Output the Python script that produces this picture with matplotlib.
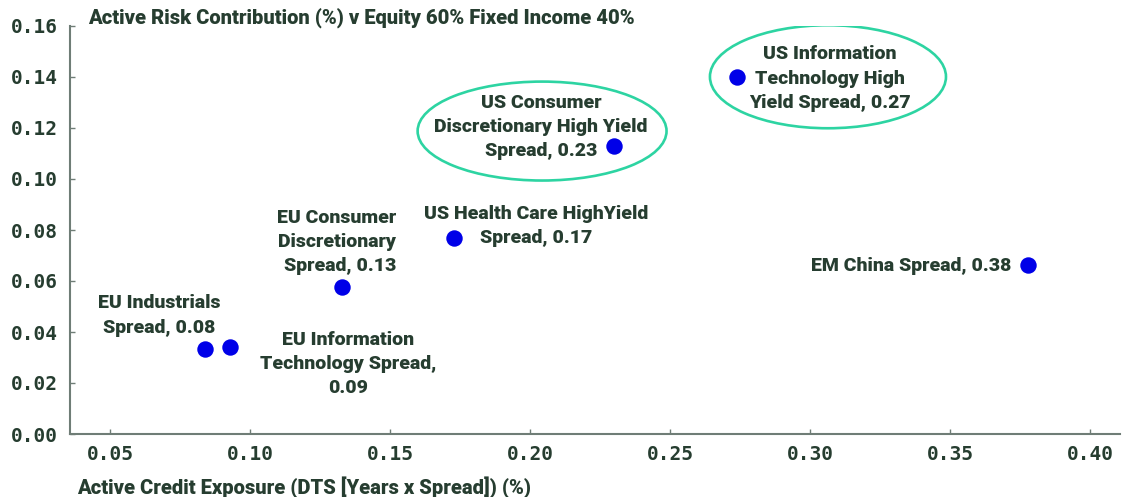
import matplotlib
matplotlib.use("Agg")
import matplotlib.pyplot as plt
from matplotlib.patches import Ellipse

# Data
names = [
    "EU Industrials\nSpread, 0.08",
    "EU Information\nTechnology Spread,\n0.09",
    "EU Consumer\nDiscretionary\nSpread, 0.13",
    "US Health Care HighYield\nSpread, 0.17",
    "US Consumer\nDiscretionary High Yield\nSpread, 0.23",
    "US Information\nTechnology High\nYield Spread, 0.27",
    "EM China Spread, 0.38",
]
credit_exposure = [0.084, 0.093, 0.133, 0.173, 0.230, 0.274, 0.378]
risk_contribution = [0.0333, 0.0341, 0.0576, 0.0769, 0.1129, 0.1401, 0.0663]
highlighted = [False, False, False, False, True, True, False]

x_ticks = [0.05, 0.10, 0.15, 0.20, 0.25, 0.30, 0.35, 0.40]
y_ticks = [0.00, 0.02, 0.04, 0.06, 0.08, 0.10, 0.12, 0.14, 0.16]

# label placement (offsets in px -> points), alignment
px = 0.72
offsets = [(-46, 33.5), (118, -17), (54, 45), (82, 12), (-73, 19), (93, -2), (-17, -1)]
haligns = ["center", "center", "right", "center", "center", "center", "right"]

TEXT = "#263d30"
SPINE = "#6f7d76"
DOT = "#0000e8"
TEAL = "#2dd4a2"
FONT = "Roboto"
WEIGHT = "heavy"

fig = plt.figure(figsize=(11.34, 4.97), dpi=100)
ax = fig.add_axes([70/1134, 63/497, (1120-70)/1134, (434-26)/497])

ax.scatter(credit_exposure, risk_contribution, s=140, color=DOT, zorder=3, linewidths=0)

for name, x, y, (dx, dy), ha in zip(names, credit_exposure, risk_contribution, offsets, haligns):
    ax.annotate(name, (x, y), xytext=(dx*px, dy*px), textcoords="offset points",
                ha=ha, va="center", multialignment=ha, fontsize=14,
                fontweight=WEIGHT, family=FONT, color=TEXT, linespacing=1.45)

# highlight ellipses around the highlighted points
ell_specs = {4: (0.2043 - 0.230, 0.1188 - 0.1129, 0.0889, 0.0388),
             5: (0.3064 - 0.274, 0.1401 - 0.1401, 0.0843, 0.0404)}
for i, (dxe, dye, w, h) in ell_specs.items():
    if highlighted[i]:
        e = Ellipse((credit_exposure[i] + dxe, risk_contribution[i] + dye), w, h,
                    fill=False, edgecolor=TEAL, linewidth=1.9, zorder=2)
        ax.add_patch(e)

ax.set_xlim(0.0357, 0.4107)
ax.set_ylim(0.0, 0.16)
ax.set_xticks(x_ticks)
ax.set_yticks(y_ticks)
ax.set_xticklabels([f"{v:.2f}" for v in x_ticks])
ax.set_yticklabels([f"{v:.2f}" for v in y_ticks])
for lab in ax.get_xticklabels() + ax.get_yticklabels():
    lab.set_family("DejaVu Sans Mono")
    lab.set_fontweight("bold")
    lab.set_fontsize(14)
    lab.set_color(TEXT)

for s in ["top", "right"]:
    ax.spines[s].set_visible(False)
for s in ["left", "bottom"]:
    ax.spines[s].set_color(SPINE)
    ax.spines[s].set_linewidth(1.5)
ax.tick_params(axis="both", color=SPINE, length=3.6, width=1, direction="in")
ax.tick_params(axis="x", pad=8)
ax.tick_params(axis="y", pad=8.5)

fig.text(88/1134, 1 - 18/497, "Active Risk Contribution (%) v Equity 60% Fixed Income 40%",
         ha="left", va="center", fontsize=14.5, fontweight=WEIGHT, family=FONT, color=TEXT)
fig.text(77/1134, 1 - 488/497, "Active Credit Exposure (DTS [Years x Spread]) (%)",
         ha="left", va="center", fontsize=14.5, fontweight=WEIGHT, family=FONT, color=TEXT)

fig.savefig("out.png", dpi=100)
